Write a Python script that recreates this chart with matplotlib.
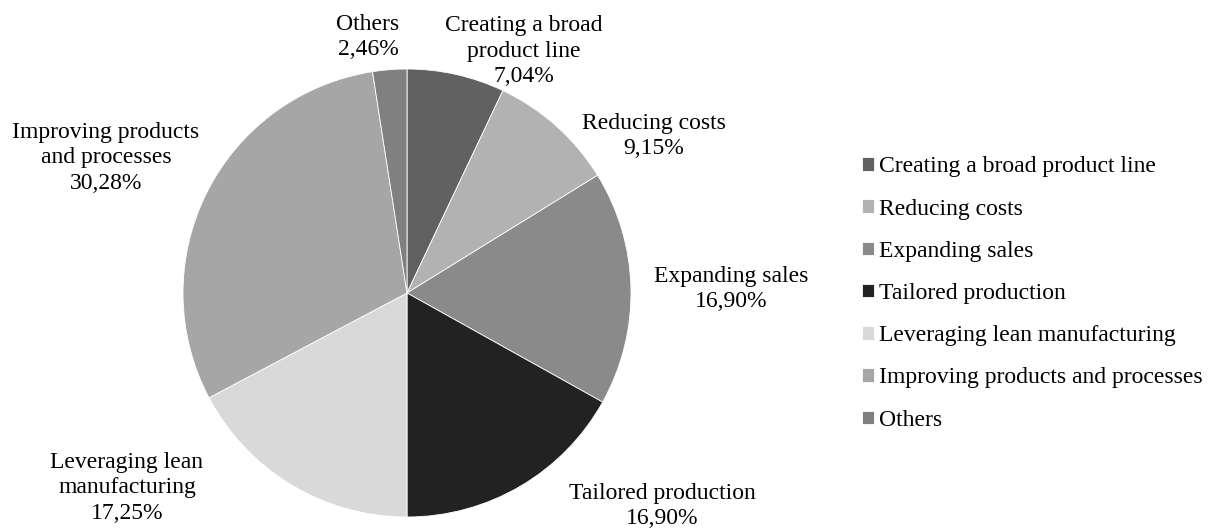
import matplotlib.pyplot as plt

plt.rcParams['font.family'] = ['Liberation Serif', 'DejaVu Serif']

# ── data ──
categories = ['Creating a broad product line', 'Reducing costs', 'Expanding sales',
              'Tailored production', 'Leveraging lean manufacturing',
              'Improving products and processes', 'Others']
shares = [7.04, 9.15, 16.90, 16.90, 17.25, 30.28, 2.46]
label_names = ['Creating a broad\nproduct line', 'Reducing costs', 'Expanding sales',
               'Tailored production', 'Leveraging lean\nmanufacturing',
               'Improving products\nand processes', 'Others']
colors = ['#616161', '#b2b2b2', '#8a8a8a', '#222222', '#d9d9d9', '#a6a6a6', '#808080']

# label anchor positions (pie radius = 1)
label_pos = [(0.522, 1.080), (1.103, 0.701), (1.446, 0.018), (1.138, -0.951),
             (-1.250, -0.870), (-1.344, 0.603), (-0.174, 1.143)]

fig = plt.figure(figsize=(12.15, 5.31), dpi=100)
# pie centred at (407, 293) px with a 224 px radius
ax = fig.add_axes([(407 - 224) / 1215, (531 - 293 - 224) / 531, 448 / 1215, 448 / 531])

wedges, _ = ax.pie(shares, colors=colors, startangle=90, counterclock=False,
                   radius=1, wedgeprops=dict(edgecolor='white', linewidth=0.6))
ax.set_xlim(-1, 1)
ax.set_ylim(-1, 1)
ax.set_aspect('equal')
ax.axis('off')

for name, val, (lx, ly) in zip(label_names, shares, label_pos):
    txt = f"{name}\n{val:.2f}%".replace('.', ',')
    ax.text(lx, ly, txt, ha='center', va='center', fontsize=17,
            linespacing=1.3, clip_on=False)

leg = fig.legend(wedges, categories, loc='center left',
                 bbox_to_anchor=(862 / 1215, 1 - 293.5 / 531), frameon=False, fontsize=17,
                 handlelength=0.5, handleheight=0.5, handletextpad=0.22,
                 labelspacing=0.9, borderpad=0, borderaxespad=0)

fig.savefig('out.png', dpi=100, facecolor='white')
